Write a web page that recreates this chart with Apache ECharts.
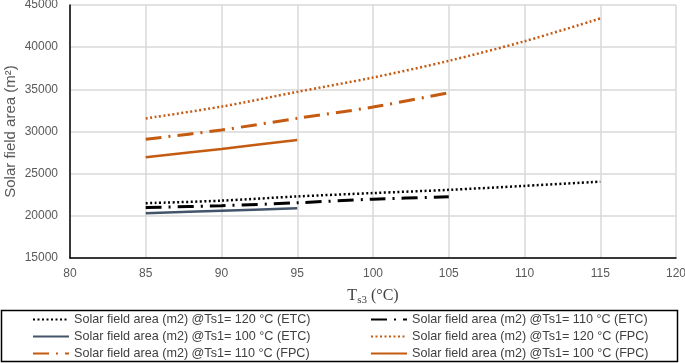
<!DOCTYPE html>
<html>
<head>
<meta charset="utf-8">
<script src="https://cdn.jsdelivr.net/npm/echarts@6/dist/echarts.min.js"></script>
<style>
html,body{margin:0;padding:0;background:#fff;}
#main{width:685px;height:363px;}
</style>
</head>
<body>
<div id="main"></div>
<script>
// Data
var xTicks = [80, 85, 90, 95, 100, 105, 110, 115, 120];
var tempsLong = [85, 90, 95, 100, 105, 110, 115];
var tempsMid = [85, 90, 95, 100, 105];
var tempsShort = [85, 90, 95];

var etc120 = [21500, 21800, 22300, 22700, 23080, 23550, 24050];
var etc110 = [20990, 21200, 21550, 21980, 22250];
var etc100 = [20320, 20600, 20910];
var fpc120 = [31550, 32950, 34700, 36400, 38380, 40700, 43400];
var fpc110 = [29080, 30180, 31560, 32900, 34600];
var fpc100 = [26950, 27930, 29000];

var names = [
  'Solar field area (m2) @Ts1= 120 °C (ETC)',
  'Solar field area (m2) @Ts1= 110 °C (ETC)',
  'Solar field area (m2) @Ts1= 100 °C (ETC)',
  'Solar field area (m2) @Ts1= 120 °C (FPC)',
  'Solar field area (m2) @Ts1= 110 °C (FPC)',
  'Solar field area (m2) @Ts1= 100 °C (FPC)'
];

function pairs(xs, ys) { return xs.map(function (x, i) { return [x, ys[i]]; }); }

var SANS = "Arial, 'Liberation Sans', sans-serif";
var SERIF = "'Times New Roman', 'Liberation Serif', serif";
var BLACK = '#000000', SLATE = '#44546A', ORANGE = '#C55A11';
var dashDot = [16, 7, 2, 7];

var seriesDefs = [
  { name: names[0], data: pairs(tempsLong, etc120), color: BLACK, type: [2, 2.5], width: 2.5 },
  { name: names[1], data: pairs(tempsMid, etc110), color: BLACK, type: dashDot, width: 3 },
  { name: names[2], data: pairs(tempsShort, etc100), color: SLATE, type: 'solid', width: 2.5 },
  { name: names[3], data: pairs(tempsLong, fpc120), color: ORANGE, type: [2, 2.5], width: 2.5 },
  { name: names[4], data: pairs(tempsMid, fpc110), color: ORANGE, type: dashDot, width: 3 },
  { name: names[5], data: pairs(tempsShort, fpc100), color: ORANGE, type: 'solid', width: 2.5 }
];

var series = seriesDefs.map(function (d) {
  return {
    type: 'line', name: d.name, data: d.data, smooth: 0.3, symbol: 'none', showSymbol: false,
    lineStyle: { color: d.color, width: d.width, type: d.type },
    itemStyle: { color: d.color },
    emphasis: { disabled: true }
  };
});

var legendPos = [
  [32, 313], [370, 313],
  [32, 330], [370, 330],
  [32, 347], [370, 347]
];
var legends = names.map(function (n, i) {
  return {
    data: [n], left: legendPos[i][0], top: legendPos[i][1], padding: 0,
    itemWidth: 36, itemHeight: 14, itemGap: 0,
    itemStyle: { opacity: 0 },
    textStyle: { fontFamily: SANS, fontSize: 12.6, color: '#404040' },
    selectedMode: false
  };
});

var chart = echarts.init(document.getElementById('main'), null, { renderer: 'canvas' });
chart.setOption({
  animation: false,
  backgroundColor: '#ffffff',
  textStyle: { fontFamily: SANS },
  grid: { left: 70, right: 9, top: 5, bottom: 105, containLabel: false, outerBoundsMode: 'none' },
  legend: legends,
  graphic: [{
    type: 'rect', shape: { x: 1.5, y: 310.5, width: 676, height: 51 },
    style: { fill: 'none', stroke: '#000', lineWidth: 1.5 }, silent: true
  }],
  xAxis: {
    type: 'value', min: xTicks[0], max: xTicks[xTicks.length - 1], interval: 5,
    name: '{a|T}{b|s3}{a| (°C)}', nameLocation: 'middle', nameGap: 28,
    nameTextStyle: {
      rich: {
        a: { fontFamily: SERIF, fontSize: 16, color: '#404040', verticalAlign: 'middle', lineHeight: 20 },
        b: { fontFamily: SERIF, fontSize: 11, color: '#404040', verticalAlign: 'bottom', lineHeight: 20, padding: [6, 0, 0, 0] }
      }
    },
    axisLine: { show: true, onZero: false, lineStyle: { color: '#000', width: 1.5 } },
    axisTick: { show: false },
    axisLabel: { margin: 10, fontFamily: SANS, fontSize: 12, color: '#595959' },
    splitLine: { show: true, lineStyle: { color: '#d9d9d9', width: 1.5 } }
  },
  yAxis: {
    type: 'value', min: 15000, max: 45000, interval: 5000,
    name: 'Solar field area (m²)', nameLocation: 'middle', nameGap: 52, nameRotate: 90,
    nameMoveOverlap: false,
    nameTextStyle: { fontFamily: SANS, fontSize: 15, color: '#595959' },
    axisLine: { show: true, onZero: false, lineStyle: { color: '#000', width: 1.5 } },
    axisTick: { show: false },
    axisLabel: {
      margin: 12, fontFamily: SANS, fontSize: 12, color: '#595959',
      formatter: function (v) { return String(v); }
    },
    splitLine: { show: true, lineStyle: { color: '#d9d9d9', width: 1.5 } }
  },
  series: series
});
</script>
</body>
</html>
